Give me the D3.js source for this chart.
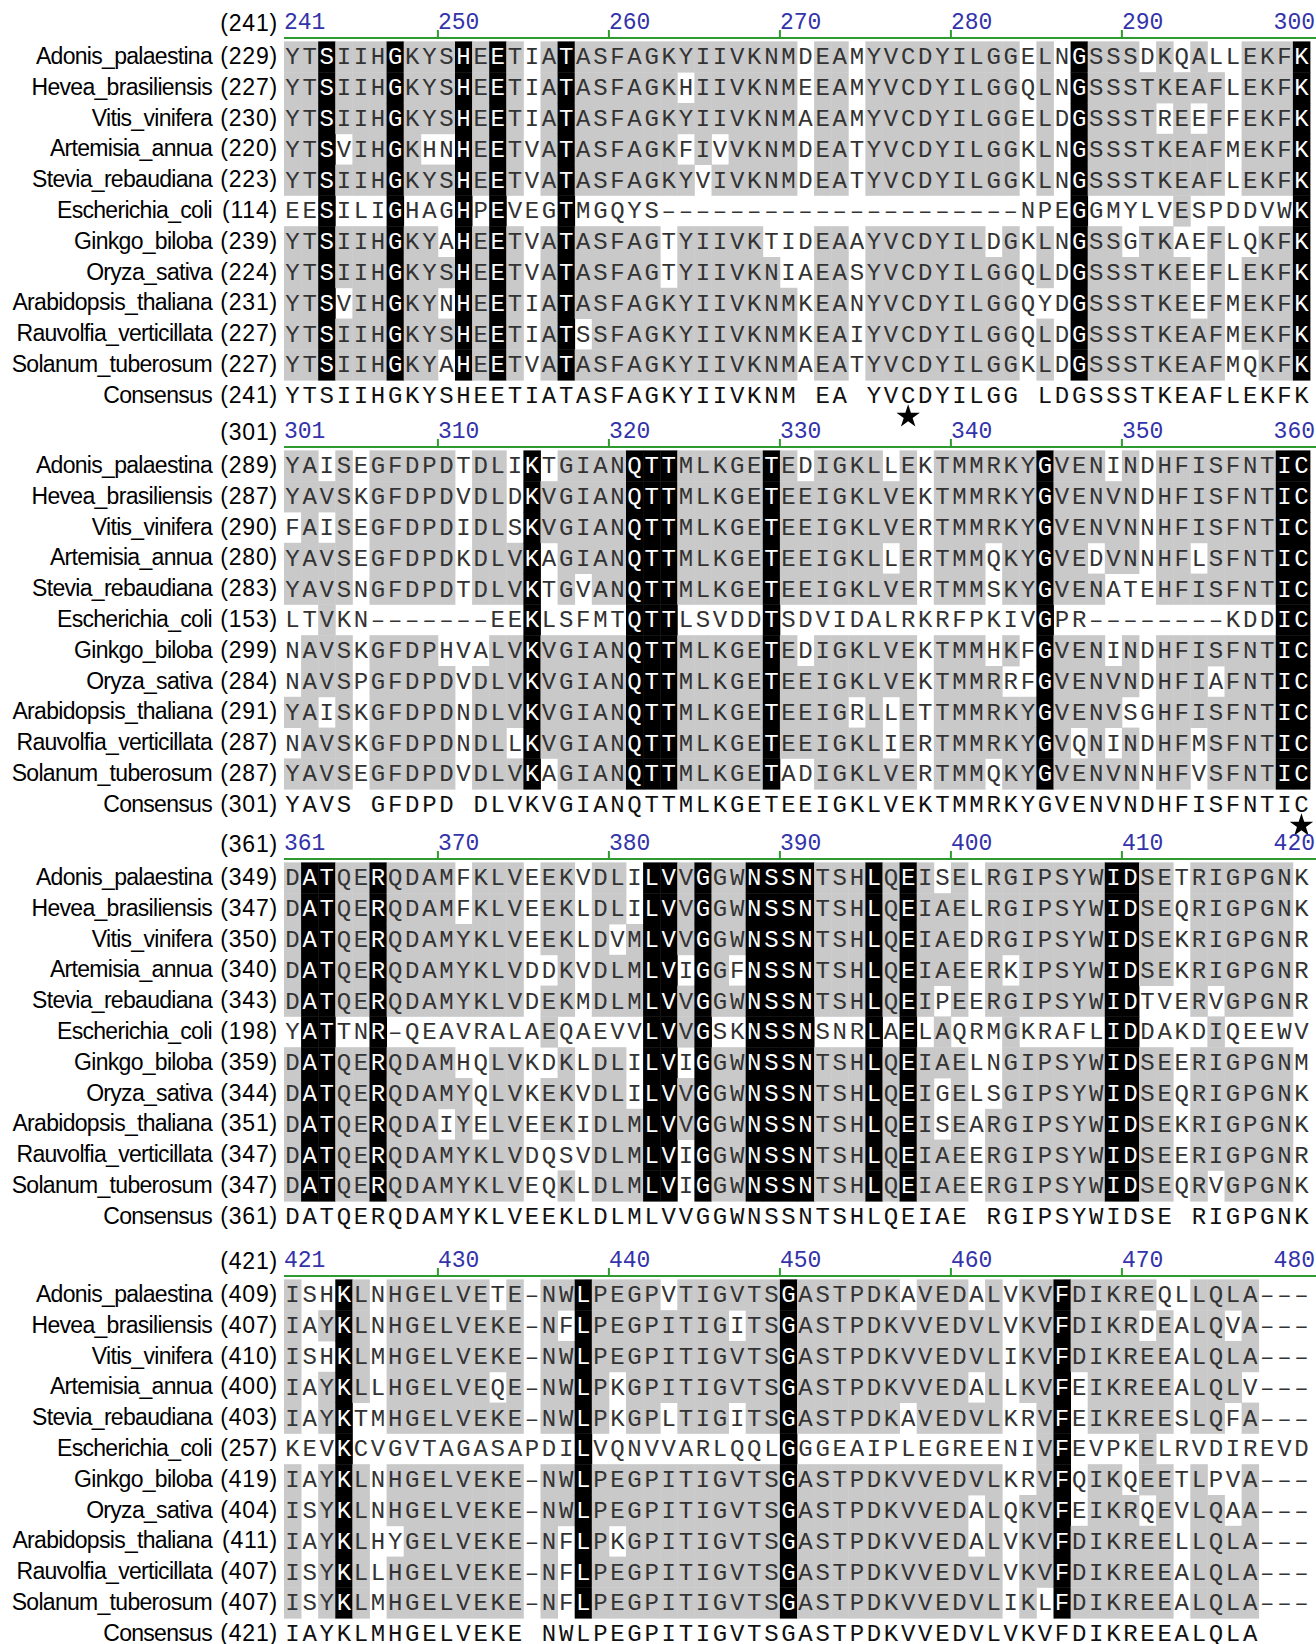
<!DOCTYPE html>
<html>
<head>
<meta charset="utf-8">
<script src="https://cdn.jsdelivr.net/npm/d3@7/dist/d3.min.js"></script>
<style>
  body { margin: 0; background: #fff; }
  svg { display: block; }
</style>
</head>
<body>
<div id="chart"></div>
<script>
// Row names and their residue number at the start of the first block
const species = [
    'Adonis_palaestina', 'Hevea_brasiliensis', 'Vitis_vinifera', 'Artemisia_annua',
    'Stevia_rebaudiana', 'Escherichia_coli', 'Ginkgo_biloba', 'Oryza_sativa',
    'Arabidopsis_thaliana', 'Rauvolfia_verticillata', 'Solanum_tuberosum'
];
const startNumbers = [229, 227, 230, 220, 223, 114, 239, 224, 231, 227, 227];
const consensusStart = 241;

// Aligned sequences, one array per block of 60 columns
const block1 = [
    'YTSIIHGKYSHEETIATASFAGKYIIVKNMDEAMYVCDYILGGELNGSSSDKQALLEKFK',
    'YTSIIHGKYSHEETIATASFAGKHIIVKNMEEAMYVCDYILGGQLNGSSSTKEAFLEKFK',
    'YTSIIHGKYSHEETIATASFAGKYIIVKNMAEAMYVCDYILGGELDGSSSTREEFFEKFK',
    'YTSVIHGKHNHEETVATASFAGKFIVVKNMDEATYVCDYILGGKLNGSSSTKEAFMEKFK',
    'YTSIIHGKYSHEETVATASFAGKYVIVKNMDEATYVCDYILGGKLNGSSSTKEAFLEKFK',
    'EESILIGHAGHPEVEGTMGQYS---------------------NPEGGMYLVESPDDVWK',
    'YTSIIHGKYAHEETVATASFAGTYIIVKTIDEAAYVCDYILDGKLNGSSGTKAEFLQKFK',
    'YTSIIHGKYSHEETVATASFAGTYIIVKNIAEASYVCDYILGGQLDGSSSTKEEFLEKFK',
    'YTSVIHGKYNHEETIATASFAGKYIIVKNMKEANYVCDYILGGQYDGSSSTKEEFMEKFK',
    'YTSIIHGKYSHEETIATSSFAGKYIIVKNMKEAIYVCDYILGGQLDGSSSTKEAFMEKFK',
    'YTSIIHGKYAHEETVATASFAGKYIIVKNMAEATYVCDYILGGKLDGSSSTKEAFMQKFK'
];
const block2 = [
    'YAISEGFDPDTDLIKTGIANQTTMLKGETEDIGKLLEKTMMRKYGVENINDHFISFNTIC',
    'YAVSKGFDPDVDLDKVGIANQTTMLKGETEEIGKLVEKTMMRKYGVENVNDHFISFNTIC',
    'FAISEGFDPDIDLSKVGIANQTTMLKGETEEIGKLVERTMMRKYGVENVNNHFISFNTIC',
    'YAVSEGFDPDKDLVKAGIANQTTMLKGETEEIGKLLERTMMQKYGVEDVNNHFLSFNTIC',
    'YAVSNGFDPDTDLVKTGVANQTTMLKGETEEIGKLVERTMMSKYGVENATEHFISFNTIC',
    'LTVKN-------EEKLSFMTQTTLSVDDTSDVIDALRKRFPKIVGPR--------KDDIC',
    'NAVSKGFDPHVALVKVGIANQTTMLKGETEDIGKLVEKTMMHKFGVENINDHFISFNTIC',
    'NAVSPGFDPDVDLVKVGIANQTTMLKGETEEIGKLVEKTMMRRFGVENVNDHFIAFNTIC',
    'YAISKGFDPDNDLVKVGIANQTTMLKGETEEIGRLLETTMMRKYGVENVSGHFISFNTIC',
    'NAVSKGFDPDNDLLKVGIANQTTMLKGETEEIGKLIERTMMRKYGVQNINDHFMSFNTIC',
    'YAVSEGFDPDVDLVKAGIANQTTMLKGETADIGKLVERTMMQKYGVENVNNHFVSFNTIC'
];
const block3 = [
    'DATQERQDAMFKLVEEKVDLILVVGGWNSSNTSHLQEISELRGIPSYWIDSETRIGPGNK',
    'DATQERQDAMFKLVEEKLDLILVVGGWNSSNTSHLQEIAELRGIPSYWIDSEQRIGPGNK',
    'DATQERQDAMYKLVEEKLDVMLVVGGWNSSNTSHLQEIAEDRGIPSYWIDSEKRIGPGNR',
    'DATQERQDAMYKLVDDKVDLMLVIGGFNSSNTSHLQEIAEERKIPSYWIDSEKRIGPGNR',
    'DATQERQDAMYKLVDEKMDLMLVVGGWNSSNTSHLQEIPEERGIPSYWIDTVERVGPGNR',
    'YATTNR-QEAVRALAEQAEVVLVVGSKNSSNSNRLAELAQRMGKRAFLIDDAKDIQEEWV',
    'DATQERQDAMHQLVKDKLDLILVIGGWNSSNTSHLQEIAELNGIPSYWIDSEERIGPGNM',
    'DATQERQDAMYQLVKEKVDLILVVGGWNSSNTSHLQEIGELSGIPSYWIDSEQRIGPGNK',
    'DATQERQDAIYELVEEKIDLMLVVGGWNSSNTSHLQEISEARGIPSYWIDSEKRIGPGNK',
    'DATQERQDAMYKLVDQSVDLMLVIGGWNSSNTSHLQEIAEERGIPSYWIDSEERIGPGNR',
    'DATQERQDAMYKLVEQKLDLMLVIGGWNSSNTSHLQEIAEERGIPSYWIDSEQRVGPGNK'
];
const block4 = [
    'ISHKLNHGELVETE-NWLPEGPVTIGVTSGASTPDKAVEDALVKVFDIKREQLLQLA---',
    'IAYKLNHGELVEKE-NFLPEGPITIGITSGASTPDKVVEDVLVKVFDIKRDEALQVA---',
    'ISHKLMHGELVEKE-NWLPEGPITIGVTSGASTPDKVVEDVLIKVFDIKREEALQLA---',
    'IAYKLLHGELVEQE-NWLPKGPITIGVTSGASTPDKVVEDALLKVFEIKREEALQLV---',
    'IAYKTMHGELVEKE-NWLPKGPLTIGITSGASTPDKAVEDVLKRVFEIKREESLQFA---',
    'KEVKCVGVTAGASAPDILVQNVVARLQQLGGGEAIPLEGREENIVFEVPKELRVDIREVD',
    'IAYKLNHGELVEKE-NWLPEGPITIGVTSGASTPDKVVEDVLKRVFQIKQEETLPVA---',
    'ISYKLNHGELVEKE-NWLPEGPITIGVTSGASTPDKVVEDALQKVFEIKRQEVLQAA---',
    'IAYKLHYGELVEKE-NFLPKGPITIGVTSGASTPDKVVEDALVKVFDIKREELLQLA---',
    'ISYKLLHGELVEKE-NFLPEGPITIGVTSGASTPDKVVEDVLVKVFDIKREEALQLA---',
    'ISYKLMHGELVEKE-NFLPEGPITIGVTSGASTPDKVVEDVLIKLFDIKREEALQLA---'
];
const consensus = [
    'YTSIIHGKYSHEETIATASFAGKYIIVKNM EA YVCDYILGG LDGSSSTKEAFLEKFK',
    'YAVS GFDPD DLVKVGIANQTTMLKGETEEIGKLVEKTMMRKYGVENVNDHFISFNTIC',
    'DATQERQDAMYKLVEEKLDLMLVVGGWNSSNTSHLQEIAE RGIPSYWIDSE RIGPGNK',
    'IAYKLMHGELVEKE NWLPEGPITIGVTSGASTPDKVVEDVLVKVFDIKREEALQLA   '
];
// alignment positions marked with a star under the consensus
const starPositions = [277, 360];
// cells the original leaves unshaded although they match the consensus
const whiteOverrides = [[0, 5, 3]];

const blocks = [block1, block2, block3, block4];

const W = 1316, H = 1644;
const nCols = 60;
const colW = 17.1;
const x0 = 284;
const rowH = 30.8;
const blockY = [38, 447, 859, 1276];   // ruler line of each block
const nameRight = 212, numRight = 278;

const seqFont = "'Courier New', 'Liberation Mono', monospace";
const labelFont = "Arial, 'Liberation Sans', Helvetica, sans-serif";

const svg = d3.select('#chart').append('svg')
    .attr('width', W)
    .attr('height', H)
    .style('background', '#fff');

const x = d3.scaleBand()
    .domain(d3.range(nCols))
    .range([x0, x0 + nCols * colW]);

const y = d3.scaleBand()
    .domain(d3.range(12))
    .range([3.4, 3.4 + 12 * rowH]);

// running residue numbers for row labels
let counters = startNumbers.slice();

blocks.forEach((rows, b) => {
    const start = consensusStart + b * nCols;
    const cons = consensus[b];
    const g = svg.append('g').attr('transform', `translate(0,${blockY[b]})`);

    // ruler
    g.append('line')
        .attr('x1', x0).attr('x2', W)
        .attr('y1', 0).attr('y2', 0)
        .attr('stroke', '#2f9a2f').attr('stroke-width', 2);

    const positions = d3.range(start, start + nCols);
    const tickPos = positions.filter(p => p % 10 === 0 && p !== start + nCols - 1);
    g.selectAll('.tick')
        .data(tickPos)
        .join('line')
        .attr('x1', p => x(p - start)).attr('x2', p => x(p - start))
        .attr('y1', -8).attr('y2', 0)
        .attr('stroke', '#2f9a2f').attr('stroke-width', 2);

    const rulerLabels = [start].concat(tickPos).concat([start + nCols - 1]);
    g.selectAll('.rnum')
        .data(rulerLabels)
        .join('text')
        .attr('x', (p, i) => i === rulerLabels.length - 1 ? W - 1 : x(p - start))
        .attr('y', -9)
        .attr('text-anchor', (p, i) => i === rulerLabels.length - 1 ? 'end' : 'start')
        .attr('font-family', seqFont)
        .attr('font-size', 23)
        .attr('fill', '#3333aa')
        .text(p => p);

    g.append('text')
        .attr('x', numRight).attr('y', -7)
        .attr('text-anchor', 'end')
        .attr('font-family', labelFont)
        .attr('font-size', 23)
        .attr('letter-spacing', 0.8)
        .attr('fill', '#000')
        .text(`(${start})`);

    // shading per cell
    const cells = [];
    for (let j = 0; j < nCols; j++) {
        const col = rows.map(r => r[j]);
        const allSame = col[0] !== '-' && col.every(c => c === col[0]);
        const c = cons[j];
        const count = col.filter(v => v === c).length;
        rows.forEach((r, i) => {
            let shade = 'none';
            if (allSame) shade = 'black';
            else if (c !== ' ' && r[j] === c && count >= 6) shade = 'gray';
            if (whiteOverrides.some(o => o[0] === b && o[1] === i && o[2] === j)) shade = 'none';
            cells.push({ row: i, col: j, ch: r[j], shade: shade });
        });
        cells.push({ row: 11, col: j, ch: c, shade: 'none' });
    }

    g.selectAll('.cell')
        .data(cells.filter(d => d.shade !== 'none'))
        .join('rect')
        .attr('x', d => x(d.col))
        .attr('y', d => y(d.row))
        .attr('width', x.bandwidth() + 0.4)
        .attr('height', y.bandwidth() + 0.4)
        .attr('fill', d => d.shade === 'black' ? '#000' : '#c9c9c9');

    g.selectAll('.res')
        .data(cells.filter(d => d.ch !== ' '))
        .join('text')
        .attr('x', d => x(d.col) + x.bandwidth() / 2)
        .attr('y', d => y(d.row) + 23)
        .attr('text-anchor', 'middle')
        .attr('font-family', seqFont)
        .attr('font-size', 24)
        .attr('fill', d => d.shade === 'black' ? '#fff' : (d.row === 11 ? '#111' : '#333'))
        .text(d => d.ch === '-' ? '\u2013' : d.ch);

    // row labels
    const labelRows = species.map((name, i) => ({ name: name, num: counters[i], row: i }));
    labelRows.push({ name: 'Consensus', num: start, row: 11 });

    g.selectAll('.name')
        .data(labelRows)
        .join('text')
        .attr('x', nameRight)
        .attr('y', d => y(d.row) + 22.5)
        .attr('text-anchor', 'end')
        .attr('font-family', labelFont)
        .attr('font-size', 23)
        .attr('letter-spacing', -0.7)
        .attr('fill', '#000')
        .text(d => d.name);

    g.selectAll('.num')
        .data(labelRows)
        .join('text')
        .attr('x', numRight)
        .attr('y', d => y(d.row) + 22.5)
        .attr('text-anchor', 'end')
        .attr('font-family', labelFont)
        .attr('font-size', 23)
        .attr('letter-spacing', 0.8)
        .attr('fill', '#000')
        .text(d => `(${d.num})`);

    // stars under the consensus row
    const stars = starPositions.filter(p => p >= start && p < start + nCols);
    g.selectAll('.star')
        .data(stars)
        .join('path')
        .attr('d', d3.symbol(d3.symbolStar, 170))
        .attr('transform', p => `translate(${x(p - start) + x.bandwidth() / 2},${y(11) + y.bandwidth() / 2 + 21})`)
        .attr('fill', '#000');

    rows.forEach((r, i) => {
        counters[i] += r.split('').filter(c => c !== '-').length;
    });
});
</script>
</body>
</html>
